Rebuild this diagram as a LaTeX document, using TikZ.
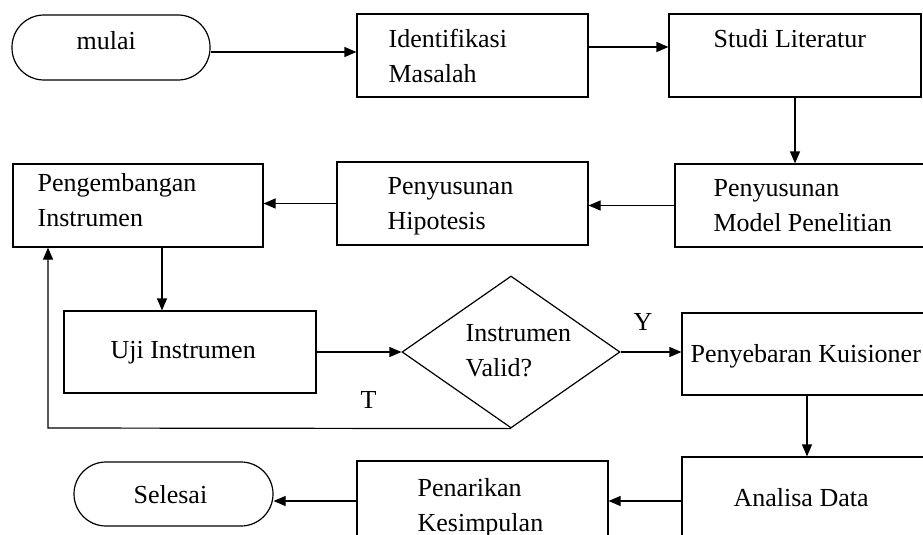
\documentclass[tikz,border=0pt]{standalone}
\usepackage{fontspec}
\setmainfont{Liberation Serif}
\usetikzlibrary{shapes.geometric,arrows.meta,positioning}

\begin{document}
\begin{tikzpicture}[x=1pt, y=-1pt, line width=1.2pt,
        every node/.style={font=\fontsize{26}{35}\selectfont},
        blok/.style={draw, rectangle, inner sep=0pt, minimum height=83pt},
        terminal/.style={draw, rectangle, rounded corners=32pt, inner sep=0pt},
        keputusan/.style={draw, diamond, inner sep=0pt, minimum width=218pt, minimum height=152pt},
        teks/.style={anchor=base west, align=left, inner sep=0pt},
        panah/.style={-{Triangle[length=12pt,width=10pt]}}]
        % Frame
        \path[use as bounding box, clip] (0,0) rectangle (923,535);
        \fill[white] (0,0) rectangle (923,535);
        % Boxes
        \node[terminal, minimum width=198pt, minimum height=65pt] (mulai) at (111,47.5) {};
        \node[blok, minimum width=231pt] (ident) at (472.5,55.5) {};
        \node[blok, minimum width=252pt] (studi) at (795,55.5) {};
        \node[blok, minimum width=270pt] (model) at (810,205.5) {};
        \node[blok, minimum width=251pt] (hipo) at (462.5,203.5) {};
        \node[blok, minimum width=250pt] (pengem) at (138,205.5) {};
        \node[blok, minimum width=252pt, minimum height=82pt] (uji) at (190,352) {};
        \node[keputusan] (valid) at (511,352) {};
        \node[blok, minimum width=250pt, minimum height=82pt] (sebar) at (807,354) {};
        \node[blok, minimum width=250pt] (analisa) at (807,498.5) {};
        \node[blok, minimum width=251pt] (tarik) at (482.5,502.5) {};
        \node[terminal, minimum width=199pt, minimum height=64pt] (selesai) at (173.5,494) {};
        % Texts (base = last line)
        \node[teks] (tmulai) at (76,49) {mulai};
        \node[teks] (tident) at (388,82) {Identifikasi\\Masalah};
        \node[teks] (tstudi) at (713,48) {Studi Literatur};
        \node[teks] (tmodel) at (713,231) {Penyusunan\\Model Penelitian};
        \node[teks] (thipo) at (387,229) {Penyusunan\\Hipotesis};
        \node[teks] (tpengem) at (37,226) {Pengembangan\\Instrumen};
        \node[teks] (tuji) at (110,358) {Uji Instrumen};
        \node[teks] (tvalid) at (465,376) {Instrumen\\Valid?};
        \node[teks] (tsebar) at (690,362) {Penyebaran Kuisioner};
        \node[teks] (tanalisa) at (733,506) {Analisa Data};
        \node[teks] (ttarik) at (417,531) {Penarikan\\Kesimpulan};
        \node[teks] (tselesai) at (133,503) {Selesai};
        \node[teks] (ly) at (633,330) {Y};
        \node[teks] (lt) at (360,408) {T};
        % Arrows
        \coordinate (loopT) at (48,428);
        \draw[panah] ([yshift=-4.5pt]mulai.east) -- ([yshift=-4.5pt]mulai.east -| ident.west);
        \draw[panah] ([yshift=8.5pt]ident.east) -- ([yshift=8.5pt]ident.east -| studi.west);
        \draw[panah] (studi.south) -- (studi.south |- model.north);
        \draw[panah] (model.west) -- (model.west -| hipo.east);
        \draw[panah] (hipo.west) -- (hipo.west -| pengem.east);
        \draw[panah] ([xshift=24pt]pengem.south) -- ([xshift=24pt]pengem.south |- uji.north);
        \draw[panah] (uji.east) -- (valid.west);
        \draw[panah] (valid.east) -- (valid.east -| sebar.west);
        \draw[panah] (valid.south) -- (loopT) -- (loopT |- pengem.south);
        \draw[panah] (sebar.south) -- (analisa.north);
        \draw[panah] ([yshift=-2.5pt]analisa.west) -- ([yshift=-2.5pt]analisa.west -| tarik.east);
        \draw[panah] ([yshift=1.5pt]tarik.west) -- ([yshift=1.5pt]tarik.west -| selesai.east);
\end{tikzpicture}
\end{document}
